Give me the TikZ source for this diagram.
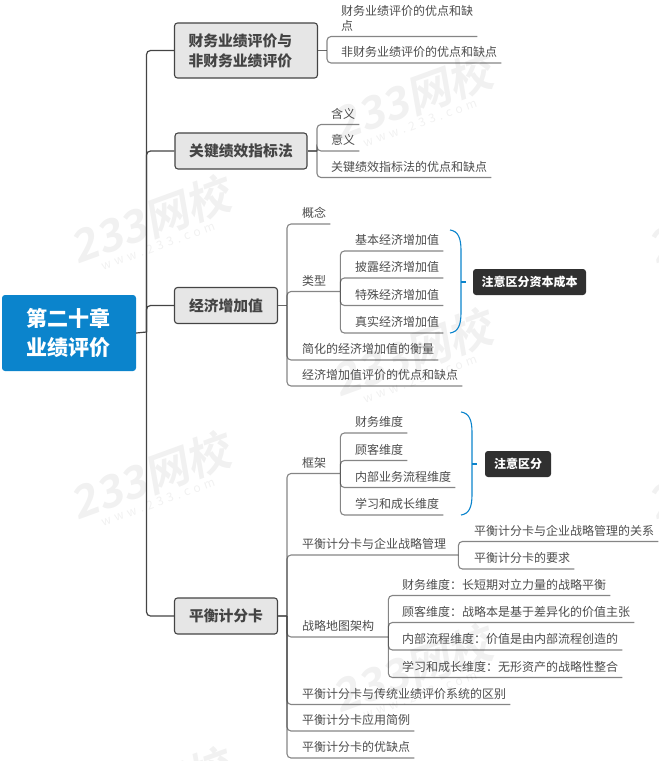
\documentclass[tikz,border=0pt]{standalone}
\usepackage{fontspec}
\newfontfamily\cjk{Noto Sans CJK SC}
\newfontfamily\wmfont[FakeSlant=0.18]{Noto Sans CJK SC Bold}
\definecolor{rootblue}{HTML}{0B84CC}
\definecolor{topicgray}{HTML}{E6E6E6}
\definecolor{edgedark}{HTML}{444444}
\definecolor{textgray}{HTML}{4C4C4C}
\definecolor{notedark}{HTML}{303030}
\definecolor{wmgray}{HTML}{F1F1F1}
\tikzstyle{rootbox}=[rectangle,rounded corners=3pt,fill=rootblue,text=white,align=center,inner sep=0pt,font=\cjk\bfseries\fontsize{21}{29}\selectfont,minimum width=134pt,minimum height=76pt]
\tikzstyle{topic}=[rectangle,rounded corners=3pt,draw=edgedark,line width=1.1pt,fill=topicgray,text=edgedark,align=left,inner sep=0pt,font=\cjk\bfseries\fontsize{14.8}{20}\selectfont,minimum height=36pt]
\tikzstyle{leaf}=[anchor=south west,inner xsep=4pt,inner ysep=5pt,text=textgray,align=left,font=\cjk\fontsize{12}{15}\selectfont]
\tikzstyle{note}=[rectangle,rounded corners=3pt,fill=notedark,text=white,inner sep=0pt,font=\cjk\bfseries\fontsize{12}{15}\selectfont,minimum height=26pt]
\tikzstyle{watermark}=[text=wmgray,rotate=20,inner sep=0pt]
\tikzstyle{mainlink}=[draw=edgedark,line width=1.2pt,rounded corners=4pt]
\tikzstyle{sublink}=[draw=edgedark,draw opacity=0.65,line width=1.1pt,rounded corners=4pt]
\tikzstyle{bracket}=[draw=rootblue,line width=1.1pt]

\begin{document}
\begin{tikzpicture}[x=1pt,y=-1pt]
    \useasboundingbox (0,0) rectangle (659,761);

    % watermarks
    \foreach \wx/\wy [count=\i] in {150/220,150/476,150/792,412/97,412/353,412/669,728/220,728/476}{
        \node[watermark,font=\wmfont\fontsize{44}{44}\selectfont] (wm\i) at (\wx,\wy) {233网校};
        \node[watermark,font=\cjk\fontsize{12}{12}\selectfont] (ws\i) at (\wx+8,\wy+26) {w\,\,w\,\,w\,\,.\,\,2\,\,3\,\,3\,\,.\,\,c\,\,o\,\,m};
    }

    \node[rootbox] (root) at (69,333) {第二十章\\业绩评价};
    \node[topic,minimum width=143pt,minimum height=55pt,text width=115pt] (t1) at (246,50.5) {财务业绩评价与\\非财务业绩评价};
    \node[topic,minimum width=132pt] (t2) at (241,151) {关键绩效指标法};
    \node[topic,minimum width=103pt] (t3) at (226,305.5) {经济增加值};
    \node[topic,minimum width=103pt] (t4) at (226,616) {平衡计分卡};

    \node[leaf] (l11) at (337,36.5) {财务业绩评价的优点和缺\\点};
    \node[leaf] (l12) at (337,63) {非财务业绩评价的优点和缺点};

    \node[leaf] (l21) at (327,124.5) {含义};
    \node[leaf] (l22) at (327,151) {意义};
    \node[leaf] (l23) at (327,177.5) {关键绩效指标法的优点和缺点};

    \node[leaf] (l31) at (298,224) {概念};
    \node[leaf,text width=34pt] (l32) at (298,291.5) {类型};
    \node[leaf] (l33) at (298,360) {简化的经济增加值的衡量};
    \node[leaf] (l34) at (298,386) {经济增加值评价的优点和缺点};
    \node[leaf] (l321) at (351,251) {基本经济增加值};
    \node[leaf] (l322) at (351,278) {披露经济增加值};
    \node[leaf] (l323) at (351,305.5) {特殊经济增加值};
    \node[leaf] (l324) at (351,333) {真实经济增加值};

    \node[leaf,text width=34pt] (l41) at (298,473.5) {框架};
    \node[leaf,text width=152pt] (l42) at (298,555) {平衡计分卡与企业战略管理};
    \node[leaf,text width=82pt] (l43) at (298,637) {战略地图架构};
    \node[leaf] (l44) at (298,704.5) {平衡计分卡与传统业绩评价系统的区别};
    \node[leaf] (l45) at (298,731) {平衡计分卡应用简例};
    \node[leaf] (l46) at (298,758) {平衡计分卡的优缺点};
    \node[leaf] (l411) at (351,433) {财务维度};
    \node[leaf] (l412) at (351,460.5) {顾客维度};
    \node[leaf] (l413) at (351,487.5) {内部业务流程维度};
    \node[leaf] (l414) at (351,515) {学习和成长维度};
    \node[leaf] (l421) at (470,541.5) {平衡计分卡与企业战略管理的关系};
    \node[leaf] (l422) at (470,569) {平衡计分卡的要求};
    \node[leaf] (l431) at (398,595.5) {财务维度：长短期对立力量的战略平衡};
    \node[leaf] (l432) at (398,622.5) {顾客维度：战略本是基于差异化的价值主张};
    \node[leaf] (l433) at (398,650) {内部流程维度：价值是由内部流程创造的};
    \node[leaf] (l434) at (398,677.5) {学习和成长维度：无形资产的战略性整合};

    \node[note,minimum width=113pt] (n1) at (529.5,282) {注意区分资本成本};
    \node[note,minimum width=66pt] (n2) at (518,464) {注意区分};

    \coordinate (s0) at (146.5,332);
    \coordinate (s1) at (327,50.5);
    \coordinate (s2) at (317,151);
    \coordinate (s3) at (287,305.5);
    \coordinate (s4) at (287,616);
    \coordinate (b1) at (461,282);
    \coordinate (b2) at (472,464);
    \coordinate (e1) at (466,282);
    \coordinate (e2) at (477,464);

    \draw[mainlink] (root.east) -- (s0);
    \foreach \to in {t1,t2,t3,t4}
    \draw[mainlink] (s0) |- (\to.west);
    \foreach \from/\to in {t1/s1,t2/s2,t3/s3,t4/s4}
    \draw[mainlink,draw=edgedark!80] (\from.east) -- (\to);

    \foreach \from/\to in {s1/l11,s1/l12,s2/l21,s2/l22,s2/l23,s3/l31,s3/l32,s3/l33,s3/l34,s4/l41,s4/l42,s4/l43,s4/l44,s4/l45,s4/l46}
    \draw[sublink] (\from) |- (\to.south east);
    \foreach \from/\to in {l32/l321,l32/l322,l32/l323,l32/l324,l41/l411,l41/l412,l41/l413,l41/l414,l42/l421,l42/l422,l43/l431,l43/l432,l43/l433,l43/l434}
    \draw[sublink] (\from.south east) |- (\to.south east);

    % brackets
    \draw[bracket] (450,230) .. controls (458,231) and (461,238) .. (461,250) -- (461,313) .. controls (461,325) and (458,332) .. (450,333);
    \draw[bracket] (461,412) .. controls (469,413) and (472,420) .. (472,432) -- (472,495) .. controls (472,507) and (469,514) .. (461,515);
    \draw[bracket] (b1) -- (e1);
    \draw[bracket] (b2) -- (e2);
\end{tikzpicture}
\end{document}
